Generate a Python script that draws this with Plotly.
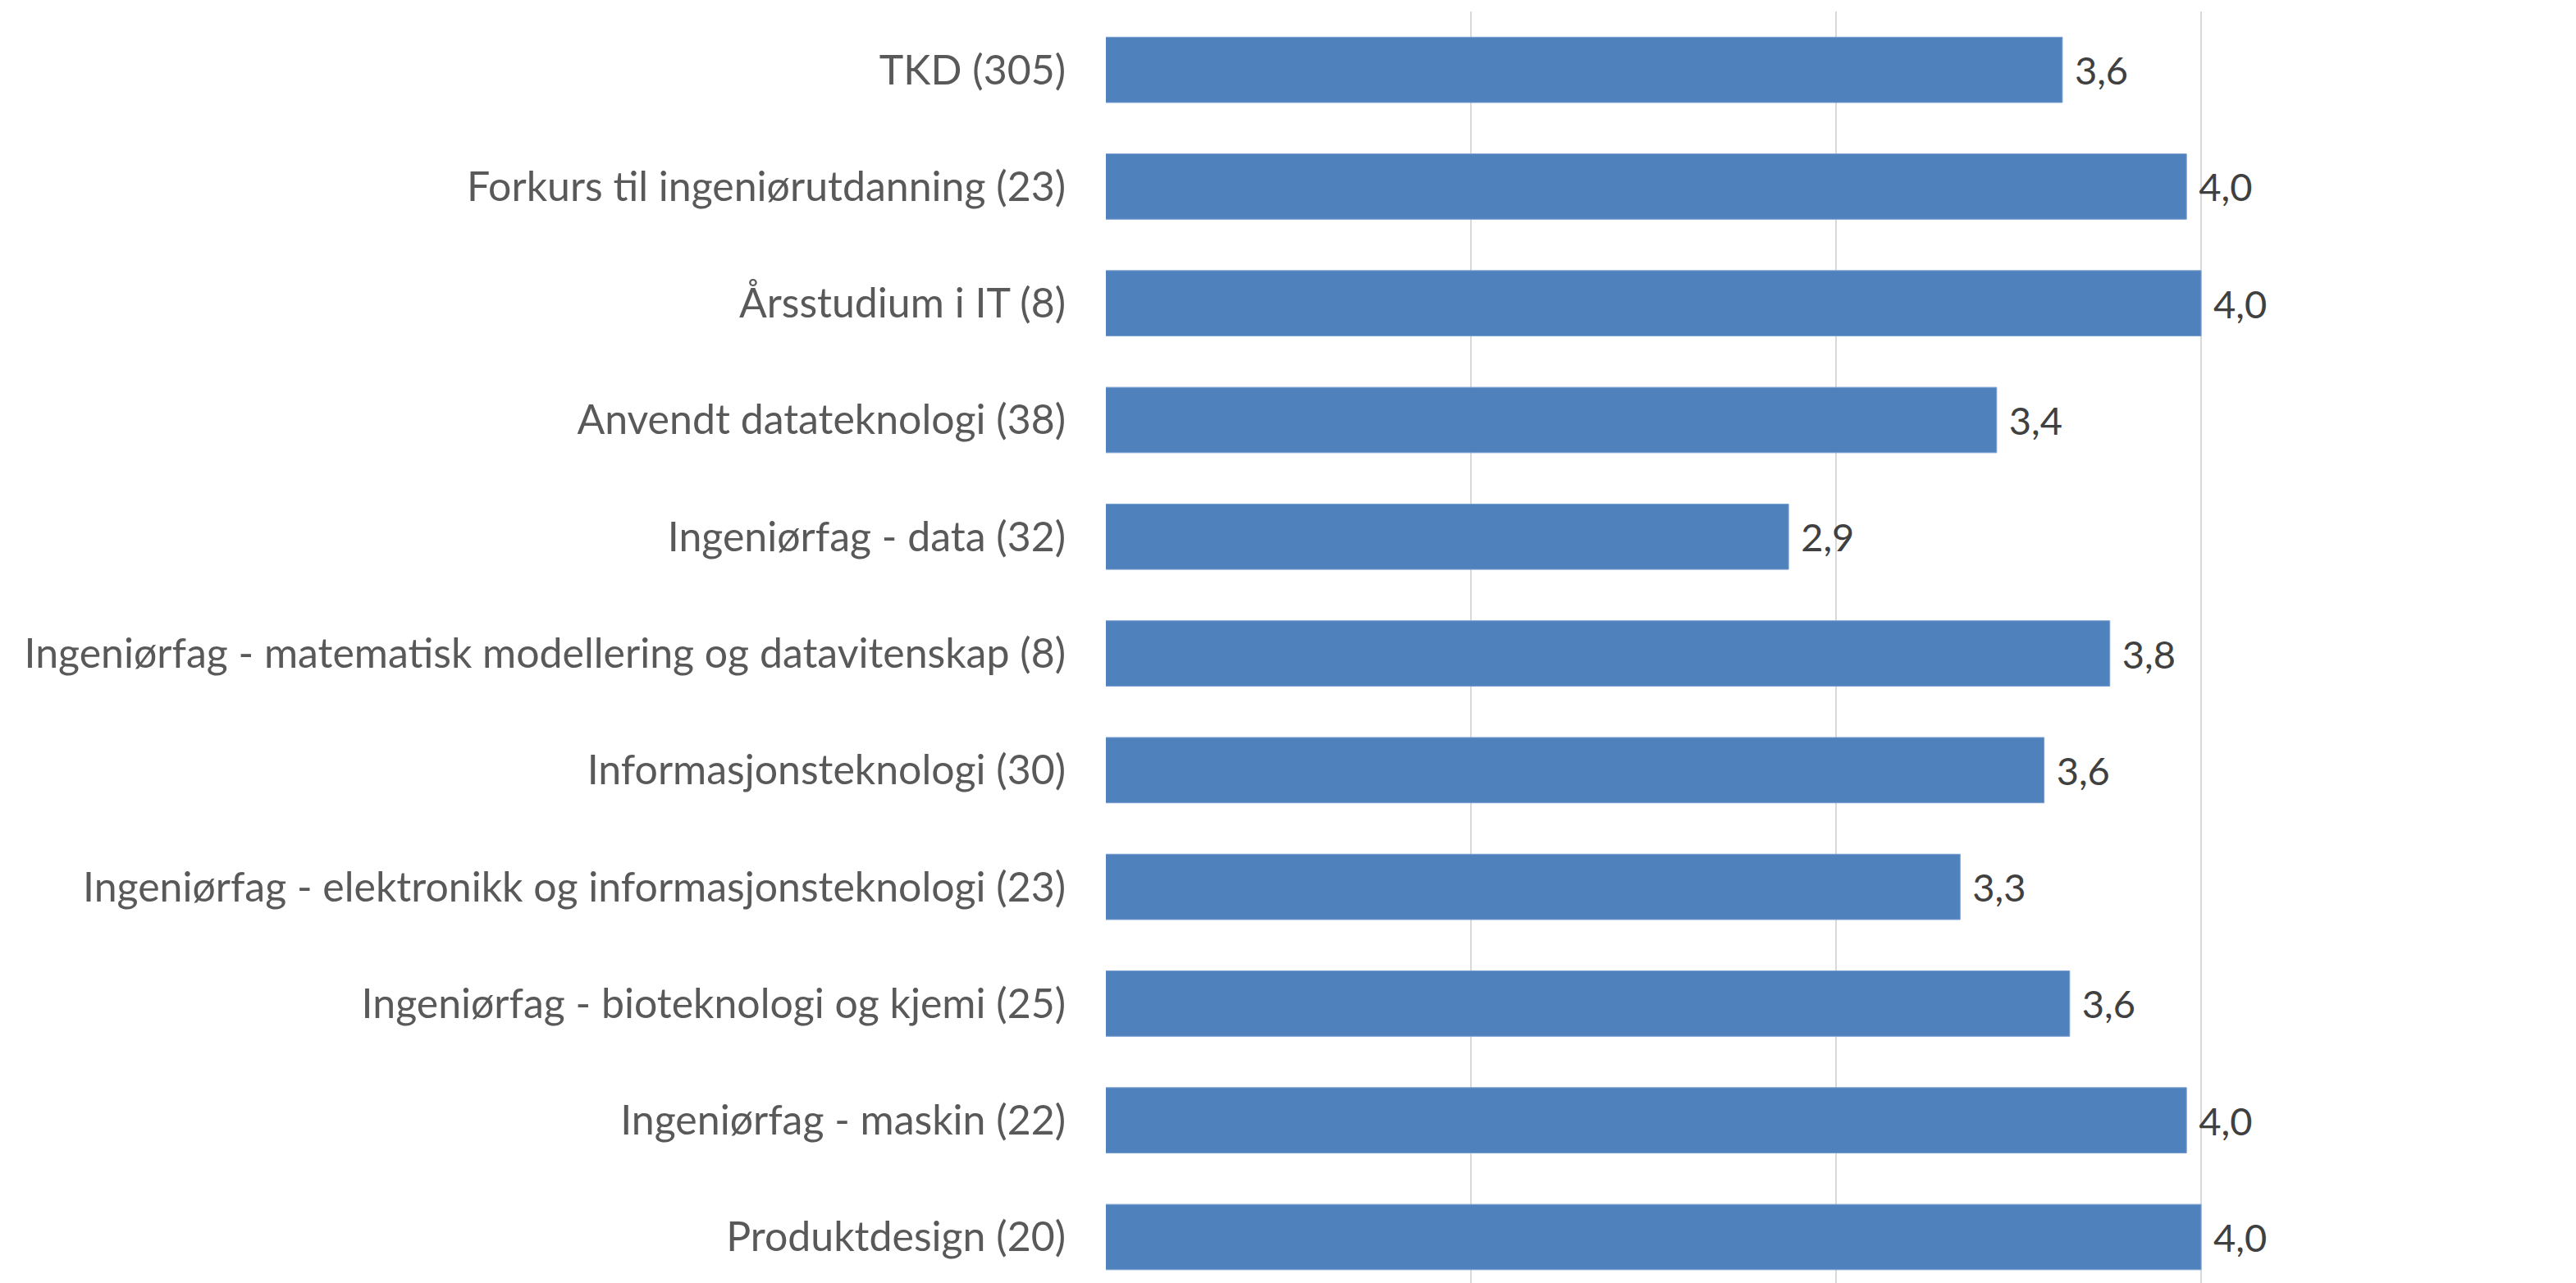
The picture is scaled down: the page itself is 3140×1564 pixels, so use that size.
import plotly.graph_objects as go

# categories top to bottom, with respondent counts in the label
categories = [
    "TKD (305)",
    "Forkurs til ingeniørutdanning (23)",
    "Årsstudium i IT (8)",
    "Anvendt datateknologi (38)",
    "Ingeniørfag - data (32)",
    "Ingeniørfag - matematisk modellering og datavitenskap (8)",
    "Informasjonsteknologi (30)",
    "Ingeniørfag - elektronikk og informasjonsteknologi (23)",
    "Ingeniørfag - bioteknologi og kjemi (25)",
    "Ingeniørfag - maskin (22)",
    "Produktdesign (20)",
]
scores = [3.62, 3.96, 4.00, 3.44, 2.87, 3.75, 3.57, 3.34, 3.64, 3.96, 4.00]

x_ticks = [1, 2, 3, 4, 5]

# norwegian decimal comma in the value labels
labels = [" " + f"{v:.1f}".replace(".", ",") for v in scores]

FONT = "Lato"

fig = go.Figure()
fig.add_trace(go.Bar(
    x=scores,
    y=categories,
    orientation="h",
    marker=dict(color="#4f81bd", line=dict(color="#7a9fd0", width=1)),
    text=labels,
    textposition="outside",
    textfont=dict(family=FONT, size=47, color="#404040"),
    cliponaxis=False,
    width=0.56,
))

fig.update_layout(
    width=3140,
    height=1564,
    margin=dict(l=1340, r=20, t=6, b=0),
    paper_bgcolor="white",
    plot_bgcolor="white",
    showlegend=False,
    font=dict(family=FONT, size=50, color="#595959"),
    xaxis=dict(
        range=[1, 5],
        tickvals=x_ticks,
        showticklabels=False,
        showgrid=True,
        gridcolor="#d9d9d9",
        gridwidth=2,
        zeroline=False,
        showline=False,
        fixedrange=True,
    ),
    yaxis=dict(
        categoryorder="array",
        categoryarray=categories,
        range=[10.45, -0.5],
        ticks="",
        ticklabelstandoff=48,
        tickfont=dict(family=FONT, size=50, color="#595959"),
        showgrid=False,
        zeroline=False,
        showline=False,
    ),
)

fig.write_html("out.html")
